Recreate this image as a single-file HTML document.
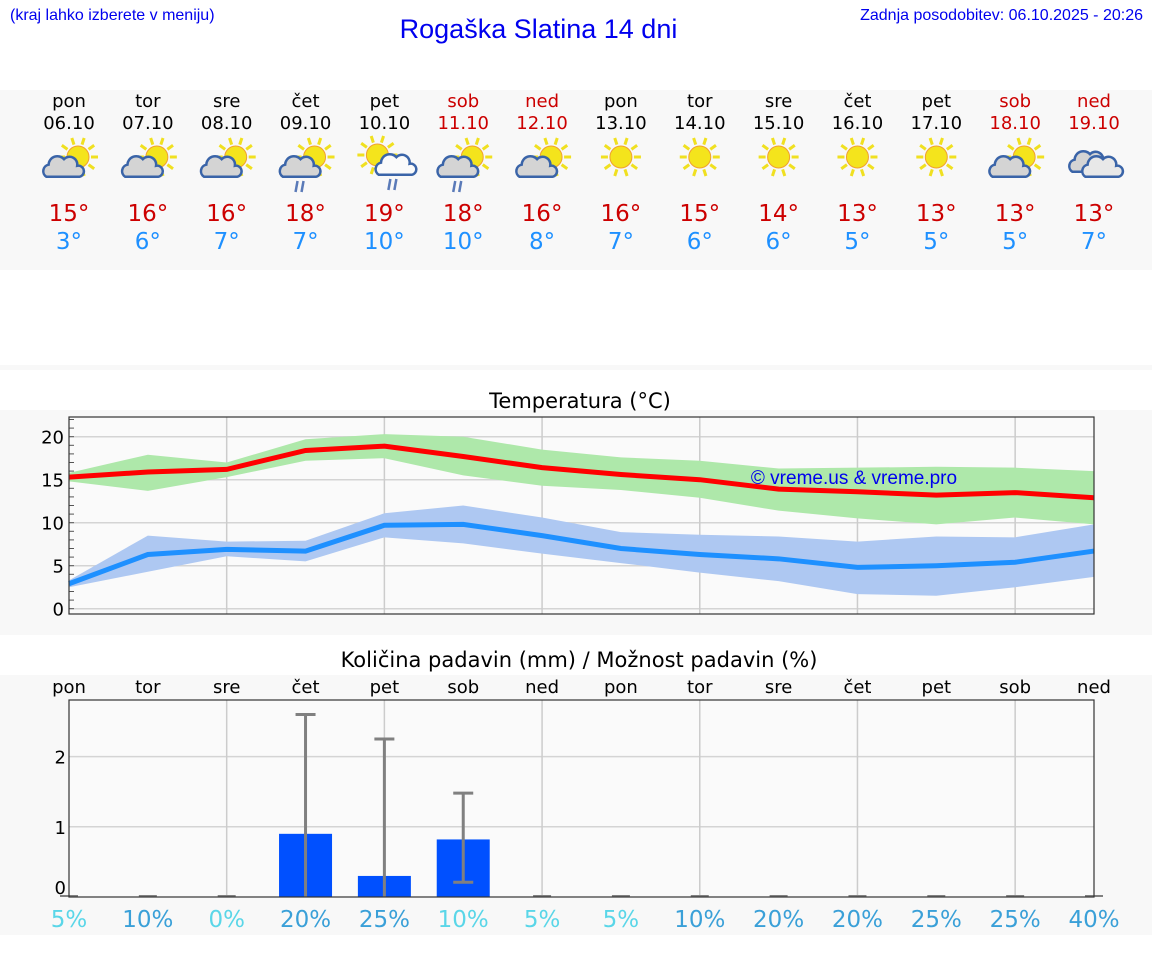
<!DOCTYPE html>
<html><head><meta charset="utf-8"><style>
body{margin:0;width:1152px;height:975px;background:#fff;position:relative;overflow:hidden;font-family:"DejaVu Sans","Liberation Sans",sans-serif}
.a{position:absolute}
</style></head><body>
<div class="a" style="left:10px;top:7px;font:16px 'Liberation Sans',sans-serif;color:#0000ee">(kraj lahko izberete v meniju)</div>
<div class="a" style="left:0;width:1077px;top:14px;text-align:center;font:27px 'Liberation Sans',sans-serif;color:#0000ee">Rogaška Slatina 14 dni</div>
<div class="a" style="right:9px;top:7px;font:16px 'Liberation Sans',sans-serif;color:#0000ee">Zadnja posodobitev: 06.10.2025 - 20:26</div>
<svg class="a" style="left:0;top:0" width="1152" height="975" id="svg" font-family="DejaVu Sans, Liberation Sans, sans-serif"></svg>
<script>
const days=["pon","tor","sre","čet","pet","sob","ned","pon","tor","sre","čet","pet","sob","ned"];
const dates=["06.10","07.10","08.10","09.10","10.10","11.10","12.10","13.10","14.10","15.10","16.10","17.10","18.10","19.10"];
const hi=[15,16,16,18,19,18,16,16,15,14,13,13,13,13];
const lo=[3,6,7,7,10,10,8,7,6,6,5,5,5,7];
const icons=["pc","pc","pc","pcr","sr","pcr","pc","s","s","s","s","s","pc","c"];
const tMax=[15.3,15.9,16.2,18.4,18.9,17.7,16.4,15.6,15.0,13.9,13.6,13.2,13.5,12.9];
const tMaxHi=[15.8,17.9,17.0,19.7,20.3,20.0,18.5,17.6,17.2,16.3,16.4,16.5,16.4,16.0];
const tMaxLo=[14.8,13.7,15.3,17.2,17.5,15.5,14.3,13.8,12.9,11.4,10.5,9.8,10.6,9.8];
const tMin=[2.9,6.3,6.9,6.7,9.7,9.8,8.5,7.0,6.3,5.8,4.8,5.0,5.4,6.7];
const tMinHi=[3.3,8.5,7.8,7.9,11.1,12.0,10.6,8.9,8.6,8.4,7.8,8.4,8.3,9.8];
const tMinLo=[2.5,4.3,6.1,5.5,8.3,7.6,6.4,5.3,4.2,3.2,1.7,1.5,2.5,3.7];
const tTicks=[0,5,10,15,20];
const rain=[0,0,0,0.9,0.3,0.82,0,0,0,0,0,0,0,0];
const rainHi=[0,0,0,2.6,2.25,1.48,0,0,0,0,0,0,0,0];
const rainLo=[0,0,0,0,0,0.21,0,0,0,0,0,0,0,0];
const prob=[5,10,0,20,25,10,5,5,10,20,20,25,25,40];
const probLight=[1,0,1,0,0,1,1,1,0,0,0,0,0,0];
const rTicks=[0,1,2];

const svg=document.getElementById('svg');const NS='http://www.w3.org/2000/svg';
function mk(t,a,p){const e=document.createElementNS(NS,t);for(const k in a)e.setAttribute(k,a[k]);(p||svg).appendChild(e);return e;}
function tx(x,y,s,a,p){const e=mk('text',Object.assign({x:x,y:y,'text-anchor':'middle'},a),p);e.textContent=s;return e;}
const X0=69,X1=1094,N=days.length;
const xs=i=>X0+i*(X1-X0)/(N-1);
const yT=v=>608.7-v*8.6;
const yR=v=>897-v*70.2;

let r=mk('rect',{x:0,y:90,width:1152,height:180,fill:'#f8f8f8'});
r=mk('rect',{x:0,y:365,width:1152,height:5,fill:'#f8f8f8'});
r=mk('rect',{x:0,y:410,width:1152,height:225,fill:'#f8f8f8'});
r=mk('rect',{x:0,y:675,width:1152,height:260,fill:'#f8f8f8'});

function sun(g,cx,cy,R){for(let k=0;k<10;k++){const a=k*Math.PI/5;mk('line',{x1:cx+Math.cos(a)*(R+2),y1:cy+Math.sin(a)*(R+2),x2:cx+Math.cos(a)*(R+9),y2:cy+Math.sin(a)*(R+9),stroke:'#f0e020','stroke-width':3},g);}
mk('circle',{cx:cx,cy:cy,r:R,fill:'#f4e41c',stroke:'#f0a030','stroke-width':1},g);}
function cloud(g,cx,cy,s,fill){mk('path',{d:`M${cx-16*s},${cy+8*s} a${6*s},${6*s} 0 0 1 ${2*s},${-11*s} a${8*s},${8*s} 0 0 1 ${14*s},${-5*s} a${7*s},${7*s} 0 0 1 ${12*s},${6*s} a${5*s},${5*s} 0 0 1 ${2*s},${10*s} z`,fill:fill,stroke:'#3a64a8','stroke-width':2.5},g);}
function drops(g,cx,cy){mk('line',{x1:cx,y1:cy,x2:cx-2,y2:cy+11,stroke:'#5a7ab8','stroke-width':2.5},g);mk('line',{x1:cx+6,y1:cy,x2:cx+4,y2:cy+11,stroke:'#5a7ab8','stroke-width':2.5},g);}

for(let i=0;i<N;i++){
 const x=xs(i),we=(days[i]=='sob'||days[i]=='ned');const col=we?'#cc0000':'#000';
 let t=tx(x,107,days[i],{'font-size':18,fill:col});
 t=tx(x,129,dates[i],{'font-size':18,fill:col});
 const g=mk('g',{});
 const ic=icons[i];
 if(ic=='pc'||ic=='pcr'){sun(g,x+9,157,11);cloud(g,x-5,168,1.1,'#d4d4d4');if(ic=='pcr')drops(g,x-8,181);}
 else if(ic=='sr'){sun(g,x-7,155,11);cloud(g,x+12,166,1.1,'#fafafa');drops(g,x+6,179);}
 else if(ic=='s'){sun(g,x,157,11);}
 else {cloud(g,x-4,163,1.1,'#d4d4d4');cloud(g,x+9,168,1.1,'#e8e8e8');}
 t=tx(x,221,hi[i]+'°',{'font-size':23,fill:'#cc0000'});
 t=tx(x,249,lo[i]+'°',{'font-size':23,fill:'#1e90ff'});
}

t=tx(580,408,'Temperatura (°C)',{'font-size':21,fill:'#000'});
mk('rect',{x:X0,y:417,width:X1-X0,height:197,fill:'#fafafa'});
for(const v of tTicks){mk('line',{x1:X0,x2:X1,y1:yT(v),y2:yT(v),stroke:'#d4d4d4','stroke-width':1.5});
 t=tx(64,yT(v)+7,String(v),{'font-size':18,'text-anchor':'end'});}
for(let v=0;v<=22;v++){mk('line',{x1:X0,x2:X0+5,y1:yT(v),y2:yT(v),stroke:'#555','stroke-width':1});}
for(let i=2;i<N;i+=2)mk('line',{x1:xs(i),x2:xs(i),y1:417,y2:614,stroke:'#ccc','stroke-width':1.5});
function band(a,b,fill,name){let d='M'+a.map((v,i)=>xs(i)+','+yT(v)).join('L')+'L'+b.map((v,i)=>xs(i)+','+yT(v)).reverse().join('L')+'Z';const p=mk('path',{d:d,fill:fill});}
function line(a,c,name){const p=mk('polyline',{points:a.map((v,i)=>xs(i)+','+yT(v)).join(' '),fill:'none',stroke:c,'stroke-width':5});}
band(tMaxHi,tMaxLo,'#aee8aa','max-temp-range');band(tMinHi,tMinLo,'#aec8f2','min-temp-range');
line(tMax,'#ff0000','max-temp-line');line(tMin,'#1e90ff','min-temp-line');
mk('rect',{x:X0,y:417,width:X1-X0,height:197,fill:'none',stroke:'#333','stroke-width':1.2});
t=tx(854,484,'© vreme.us & vreme.pro',{'font-size':19,fill:'#0000ee','font-family':'Liberation Sans, sans-serif'});

t=tx(579,667,'Količina padavin (mm) / Možnost padavin (%)',{'font-size':21,fill:'#000'});
mk('rect',{x:X0,y:700,width:X1-X0,height:197,fill:'#fafafa'});
for(const v of rTicks){if(v>0)mk('line',{x1:X0,x2:X1,y1:yR(v),y2:yR(v),stroke:'#d4d4d4','stroke-width':1.5});
 t=tx(66,yR(v)+(v==0?-3:7),String(v),{'font-size':18,'text-anchor':'end'});}
for(let i=2;i<N;i+=2)mk('line',{x1:xs(i),x2:xs(i),y1:700,y2:897,stroke:'#ccc','stroke-width':1.5});
for(let i=0;i<N;i++){const x=xs(i);
 t=tx(x,693,days[i],{'font-size':18});
 if(rain[i]>0){const b=mk('rect',{x:x-26.5,y:yR(rain[i]),width:53,height:yR(0)-yR(rain[i]),fill:'#0050ff'});}
 if(rainHi[i]>0){const g=mk('g',{stroke:'#808080','stroke-width':3});
  mk('line',{x1:x,x2:x,y1:yR(rainHi[i]),y2:yR(rainLo[i])},g);mk('line',{x1:x-10,x2:x+10,y1:yR(rainHi[i]),y2:yR(rainHi[i])},g);if(rainLo[i]>0)mk('line',{x1:x-10,x2:x+10,y1:yR(rainLo[i]),y2:yR(rainLo[i])},g);}
 else mk('line',{x1:x-9,x2:x+9,y1:896,y2:896,stroke:'#808080','stroke-width':2});
 t=tx(x,927,prob[i]+'%',{'font-size':23,fill:probLight[i]?'#5ad6e8':'#3aa0d8'});
}
mk('rect',{x:X0,y:700,width:X1-X0,height:197,fill:'none',stroke:'#333','stroke-width':1.2});
</script>
</body></html>
